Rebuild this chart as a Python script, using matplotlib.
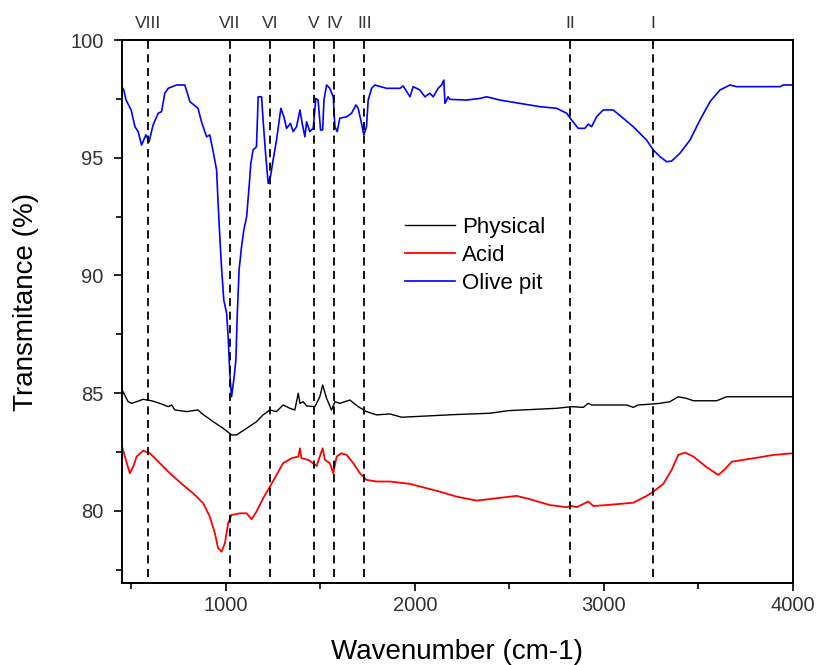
import numpy as np
import matplotlib
matplotlib.use('Agg')
import matplotlib.pyplot as plt

plt.rcParams['font.family'] = ['Liberation Sans', 'DejaVu Sans']

# FTIR spectra: wavenumber (cm-1) and transmittance (%)
wn_olive = [451, 460, 472, 499, 519, 536, 554, 577, 594, 615, 642, 660, 677, 695,
            739, 783, 810, 853, 871, 898, 915, 933, 951, 959, 968, 977, 989, 1004,
            1012, 1021, 1030, 1042, 1053, 1060, 1070, 1083, 1095, 1110, 1123, 1132,
            1144, 1162, 1171, 1189, 1197, 1210, 1224, 1236, 1250, 1268, 1291, 1307,
            1321, 1342, 1356, 1374, 1392, 1404, 1418, 1427, 1444, 1462, 1476, 1488,
            1501, 1512, 1519, 1533, 1550, 1568, 1577, 1589, 1603, 1639, 1665, 1688,
            1700, 1714, 1730, 1744, 1753, 1771, 1788, 1850, 1921, 1938, 1974, 1991,
            2026, 2053, 2079, 2097, 2123, 2141, 2153, 2159, 2176, 2185, 2273, 2344,
            2379, 2450, 2556, 2661, 2750, 2803, 2829, 2864, 2899, 2917, 2935, 2961,
            2996, 3049, 3102, 3155, 3226, 3261, 3296, 3332, 3358, 3402, 3455, 3508,
            3561, 3614, 3667, 3702, 3861, 3931, 3949, 4000]
t_olive = [98.00, 97.88, 97.45, 97.03, 96.32, 96.11, 95.54, 95.97, 95.68, 96.39,
           96.89, 96.96, 97.74, 97.95, 98.09, 98.09, 97.38, 97.10, 96.53, 95.89,
           95.97, 95.26, 94.48, 93.07, 91.65, 90.37, 88.96, 88.40, 87.40, 85.85,
           84.85, 85.56, 86.41, 88.25, 90.23, 91.22, 91.93, 92.50, 93.77, 94.76,
           95.33, 95.47, 97.59, 97.59, 96.60, 95.19, 93.91, 94.20, 94.90, 95.75,
           97.10, 96.74, 96.25, 96.46, 96.11, 96.32, 97.03, 96.46, 95.89, 96.53,
           96.11, 96.25, 97.52, 97.45, 96.18, 96.18, 97.45, 98.09, 97.95, 97.59,
           96.32, 96.11, 96.68, 96.74, 96.89, 97.24, 97.10, 96.60, 95.97, 96.32,
           97.45, 97.95, 98.09, 97.95, 97.95, 98.05, 97.59, 98.02, 97.88, 97.59,
           97.74, 97.59, 97.95, 98.09, 98.30, 97.31, 97.59, 97.48, 97.45, 97.52,
           97.59, 97.45, 97.31, 97.17, 97.10, 96.89, 96.60, 96.25, 96.25, 96.43,
           96.32, 96.74, 97.03, 97.03, 96.68, 96.32, 95.75, 95.33, 95.05, 94.83,
           94.86, 95.19, 95.75, 96.60, 97.38, 97.88, 98.09, 98.02, 98.02, 98.02,
           98.09, 98.09]

wn_phys = [451, 460, 483, 501, 528, 562, 607, 651, 695, 713, 730, 792, 853, 871,
           933, 986, 1030, 1057, 1110, 1162, 1197, 1233, 1268, 1303, 1339, 1365,
           1383, 1392, 1409, 1427, 1471, 1497, 1512, 1533, 1559, 1577, 1603, 1656,
           1700, 1744, 1797, 1868, 1930, 2203, 2397, 2494, 2750, 2829, 2891, 2917,
           2935, 3120, 3155, 3182, 3252, 3296, 3349, 3393, 3437, 3473, 3596, 3649,
           3755, 4000]
t_phys = [85.14, 85.00, 84.64, 84.57, 84.64, 84.74, 84.68, 84.57, 84.43, 84.50,
          84.29, 84.22, 84.29, 84.15, 83.79, 83.51, 83.23, 83.23, 83.51, 83.79,
          84.08, 84.29, 84.22, 84.50, 84.36, 84.29, 85.00, 84.57, 84.64, 84.46,
          84.43, 84.85, 85.35, 84.78, 84.29, 84.64, 84.57, 84.71, 84.43, 84.22,
          84.08, 84.12, 83.98, 84.09, 84.15, 84.26, 84.36, 84.43, 84.40, 84.57,
          84.50, 84.50, 84.40, 84.50, 84.54, 84.57, 84.64, 84.85, 84.78, 84.68,
          84.68, 84.85, 84.85, 84.85]

wn_acid = [451, 466, 492, 510, 528, 562, 598, 633, 704, 774, 827, 880, 915, 942,
           959, 977, 995, 1012, 1030, 1074, 1110, 1136, 1162, 1197, 1233, 1268,
           1303, 1348, 1383, 1392, 1400, 1436, 1480, 1497, 1512, 1524, 1550, 1568,
           1586, 1612, 1639, 1674, 1709, 1744, 1797, 1868, 1974, 2132, 2220, 2326,
           2432, 2538, 2608, 2714, 2803, 2829, 2856, 2917, 2944, 3014, 3155, 3226,
           3261, 3314, 3358, 3393, 3429, 3473, 3543, 3605, 3640, 3676, 3737, 3825,
           3896, 4000]
t_acid = [82.73, 82.31, 81.60, 81.88, 82.31, 82.56, 82.45, 82.17, 81.60, 81.10,
          80.75, 80.33, 79.76, 79.05, 78.42, 78.27, 78.63, 79.48, 79.83, 79.90,
          79.90, 79.65, 79.97, 80.54, 81.03, 81.53, 82.03, 82.24, 82.31, 82.66,
          82.24, 82.17, 81.91, 82.31, 82.66, 82.17, 82.03, 81.60, 82.31, 82.45,
          82.38, 82.03, 81.60, 81.32, 81.25, 81.25, 81.15, 80.82, 80.61, 80.44,
          80.54, 80.64, 80.50, 80.25, 80.16, 80.21, 80.16, 80.40, 80.21, 80.25,
          80.35, 80.64, 80.82, 81.15, 81.74, 82.38, 82.48, 82.31, 81.86, 81.53,
          81.77, 82.09, 82.17, 82.28, 82.38, 82.45]

# band assignments marked with dashed guides
band_labels = ['VIII', 'VII', 'VI', 'V', 'IV', 'III', 'II', 'I']
band_pos = [589, 1021, 1234, 1466, 1573, 1732, 2822, 3258]

fig = plt.figure(figsize=(8.18, 6.65), dpi=100)
ax = fig.add_axes([0.149, 0.1233, 0.8204, 0.8165])

ax.plot(wn_phys, t_phys, color='black', lw=1.0, label='Physical')
ax.plot(wn_acid, t_acid, color='red', lw=1.3, label='Acid')
ax.plot(wn_olive, t_olive, color='blue', lw=1.2, label='Olive pit')

ax.vlines(band_pos, 77.2, 100, colors='black', linestyles=(0, (4.5, 3)), lw=1.3)
for lab, pos in zip(band_labels, band_pos):
    ax.text(pos, 100.4, lab, ha='center', va='bottom', fontsize=12.5,
            color='#333333', clip_on=False)

ax.set_xlim(450, 4000)
ax.set_ylim(76.94, 100)
ax.set_xticks([1000, 2000, 3000, 4000])
ax.set_xticks(np.arange(500, 4000, 1000), minor=True)
ax.set_yticks([80, 85, 90, 95, 100])
ax.set_yticks(np.arange(77.5, 100, 5), minor=True)
ax.tick_params(which='major', direction='out', length=6, width=1.2,
               labelsize=14.5, colors='black', labelcolor='#333333')
ax.tick_params(axis='y', which='major', pad=7)
ax.tick_params(which='minor', direction='out', length=4, width=1.2)
for sp in ax.spines.values():
    sp.set_linewidth(1.4)

ax.set_xlabel('Wavenumber (cm-1)', fontsize=20, labelpad=17)
ax.set_ylabel('Transmitance (%)', fontsize=20)
ax.yaxis.set_label_coords(-0.124, 0.517)

ax.legend(loc='upper left', bbox_to_anchor=(0.422, 0.674), frameon=False,
          fontsize=16, handlelength=2.25, handletextpad=0.33, labelspacing=0.32,
          borderpad=0, borderaxespad=0)

fig.savefig('out.png', dpi=100)
